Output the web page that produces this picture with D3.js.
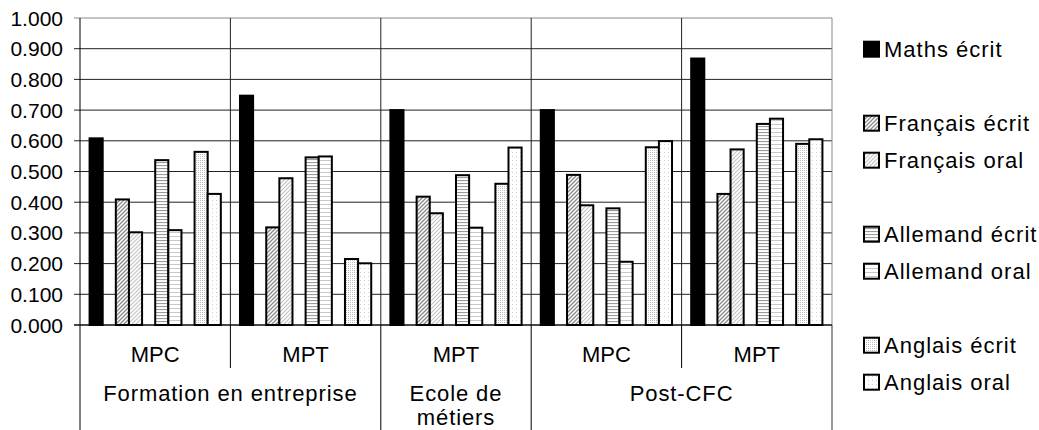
<!DOCTYPE html>
<html>
<head>
<meta charset="utf-8">
<script src="https://cdn.jsdelivr.net/npm/d3@7"></script>
<style>
  body { margin: 0; background: #fff; }
  text { font-family: "Liberation Sans", Arial, sans-serif; fill: #000; }
</style>
</head>
<body>
<div id="viz"></div>
<script>
// data
const subCats = ["MPC", "MPT", "MPT", "MPC", "MPT"];
const groups = ["Formation en entreprise", "Ecole de métiers", "Post-CFC"];
const groupSpans = [2, 1, 2];
const seriesNames = ["Maths écrit", "", "Français écrit", "Français oral", "",
  "Allemand écrit", "Allemand oral", "", "Anglais écrit", "Anglais oral"];
const mathsEcrit = [0.608, 0.747, 0.700, 0.700, 0.868];
const francaisEcrit = [0.409, 0.318, 0.418, 0.489, 0.427];
const francaisOral = [0.302, 0.478, 0.364, 0.390, 0.572];
const allemandEcrit = [0.537, 0.546, 0.488, 0.380, 0.655];
const allemandOral = [0.309, 0.549, 0.317, 0.206, 0.672];
const anglaisEcrit = [0.564, 0.215, 0.460, 0.579, 0.590];
const anglaisOral = [0.427, 0.201, 0.578, 0.599, 0.605];
const seriesValues = [mathsEcrit, null, francaisEcrit, francaisOral, null,
  allemandEcrit, allemandOral, null, anglaisEcrit, anglaisOral];
const yTicks = d3.range(0, 11).map((d) => d / 10);

const W = 1039, H = 430;
const plotL = 80, plotR = 832, plotT = 18, plotB = 325;

const svg = d3.select("#viz").append("svg")
  .attr("width", W).attr("height", H);

// fill patterns
const defs = svg.append("defs");
function stripes(id, size, path, color, sw) {
  const p = defs.append("pattern").attr("id", id)
    .attr("patternUnits", "userSpaceOnUse")
    .attr("width", size).attr("height", size);
  p.append("rect").attr("width", size).attr("height", size).attr("fill", "#fff");
  p.append("path").attr("d", path).attr("stroke", color)
    .attr("stroke-width", sw).attr("fill", "none");
}
function dots(id, size, color, r) {
  const p = defs.append("pattern").attr("id", id)
    .attr("patternUnits", "userSpaceOnUse")
    .attr("width", size).attr("height", size);
  p.append("rect").attr("width", size).attr("height", size).attr("fill", "#fff");
  p.append("rect").attr("x", 0).attr("y", 0).attr("width", r).attr("height", r).attr("fill", color);
}
stripes("frE", 4, "M-1,1 L1,-1 M0,4 L4,0 M3,5 L5,3", "#8a8a8a", 1.3);
stripes("frO", 4, "M-1,1 L1,-1 M0,4 L4,0 M3,5 L5,3", "#c4c4c4", 1.2);
stripes("alE", 3, "M0,0.5 L3,0.5", "#9a9a9a", 1.2);
stripes("alO", 4, "M0,0.5 L4,0.5", "#c8c8c8", 1);
dots("anE", 2, "#bdbdbd", 1);
dots("anO", 4, "#d0d0d0", 1);
const fills = ["#000", null, "url(#frE)", "url(#frO)", null,
  "url(#alE)", "url(#alO)", null, "url(#anE)", "url(#anO)"];

const x = d3.scaleBand().domain(d3.range(subCats.length)).range([plotL, plotR]);
const xs = d3.scaleBand().domain(d3.range(seriesNames.length))
  .range([0, x.bandwidth()]).paddingOuter(0.73);
const y = d3.scaleLinear().domain([0, 1]).range([plotB, plotT]);

// gridlines + y labels
svg.selectAll(".grid").data(yTicks).join("line")
  .attr("x1", plotL - 6).attr("x2", plotR)
  .attr("y1", (d) => y(d)).attr("y2", (d) => y(d))
  .attr("stroke", (d) => (d === 1 ? "#888" : "#222")).attr("stroke-width", 1);
svg.selectAll(".ylab").data(yTicks).join("text")
  .attr("x", 63).attr("y", (d) => y(d) + 7.5)
  .attr("text-anchor", "end").attr("font-size", 21)
  .text((d) => d3.format(".3f")(d));

// vertical separators inside the plot
svg.selectAll(".vsep").data(d3.range(1, subCats.length)).join("line")
  .attr("x1", (d) => x(d)).attr("x2", (d) => x(d))
  .attr("y1", plotT).attr("y2", plotB)
  .attr("stroke", "#222");

// bars
seriesValues.forEach((vals, s) => {
  if (!vals) return;
  svg.append("g").selectAll("rect").data(vals).join("rect")
    .attr("x", (d, i) => x(i) + xs(s))
    .attr("y", (d) => y(d))
    .attr("width", xs.bandwidth())
    .attr("height", (d) => y(0) - y(d))
    .attr("fill", fills[s])
    .attr("stroke", "#000")
    .attr("stroke-width", 2);
});

// axis lines and plot border
svg.append("line").attr("x1", plotL).attr("x2", plotL).attr("y1", plotT).attr("y2", H)
  .attr("stroke", "#000");
svg.append("line").attr("x1", plotR).attr("x2", plotR).attr("y1", plotT).attr("y2", plotB)
  .attr("stroke", "#888");
svg.append("line").attr("x1", plotR).attr("x2", plotR).attr("y1", plotB).attr("y2", H)
  .attr("stroke", "#333");
svg.append("line").attr("x1", plotL - 6).attr("x2", plotR).attr("y1", plotB).attr("y2", plotB)
  .attr("stroke", "#000");

// category axis: sub-category labels
svg.selectAll(".sub").data(subCats).join("text")
  .attr("x", (d, i) => x(i) + x.bandwidth() / 2).attr("y", 362)
  .attr("text-anchor", "middle").attr("font-size", 22)
  .text((d) => d);

// group boundaries
let starts = [0];
groupSpans.forEach((n, i) => starts.push(starts[i] + n));
d3.range(1, subCats.length).forEach((i) => {
  const isGroup = starts.includes(i);
  svg.append("line").attr("x1", x(i)).attr("x2", x(i))
    .attr("y1", plotB).attr("y2", isGroup ? H : 368)
    .attr("stroke", "#000");
});

// group labels (wrap Ecole de métiers)
groups.forEach((g, i) => {
  const cx = x(starts[i]) + (x.bandwidth() * groupSpans[i]) / 2;
  const lines = groupSpans[i] === 1 ? ["Ecole de", "métiers"] : [g];
  svg.append("text").attr("x", cx).attr("y", 401)
    .attr("text-anchor", "middle").attr("font-size", 22)
    .attr("letter-spacing", 0.9)
    .selectAll("tspan").data(lines).join("tspan")
    .attr("x", cx).attr("dy", (d, j) => (j === 0 ? 0 : 24))
    .text((d) => d);
});

// legend
const lg = svg.append("g");
seriesNames.forEach((name, i) => {
  if (!name) return;
  const by = 56.7 + 37 * i;
  lg.append("rect").attr("x", 864).attr("y", by - 15).attr("width", 15).attr("height", 15)
    .attr("fill", fills[i]).attr("stroke", "#000").attr("stroke-width", 2);
  lg.append("text").attr("x", 884).attr("y", by).attr("font-size", 22)
    .attr("letter-spacing", 1)
    .text(name);
});
</script>
</body>
</html>
